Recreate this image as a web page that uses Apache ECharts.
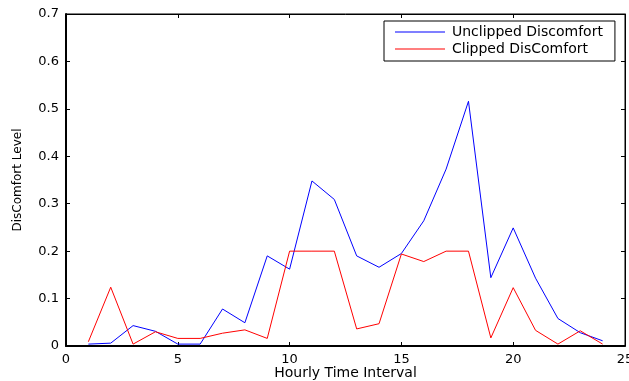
<!DOCTYPE html>
<html>
<head>
<meta charset="utf-8">
<script src="https://cdn.jsdelivr.net/npm/echarts@6/dist/echarts.min.js"></script>
<style>
  html, body { margin: 0; padding: 0; background: #fff; }
  #chart { width: 629px; height: 381px; }
</style>
</head>
<body>
<div id="chart"></div>
<script>
var hours = [1, 2, 3, 4, 5, 6, 7, 8, 9, 10, 11, 12, 13, 14, 15, 16, 17, 18, 19, 20, 21, 22, 23, 24];
var unclipped = [0.004, 0.006, 0.043, 0.031, 0.004, 0.004, 0.078, 0.049, 0.19, 0.162, 0.348, 0.309,
  0.19, 0.166, 0.195, 0.264, 0.373, 0.516, 0.144, 0.249, 0.143, 0.058, 0.028, 0.011];
var clipped = [0.009, 0.124, 0.004, 0.03, 0.016, 0.016, 0.027, 0.034, 0.016, 0.2, 0.2, 0.2,
  0.036, 0.047, 0.194, 0.178, 0.2, 0.2, 0.017, 0.123, 0.033, 0.004, 0.032, 0.004];

function pairs(ys) {
  var res = [];
  for (var i = 0; i < hours.length; i++) {
    res.push([hours[i], ys[i]]);
  }
  return res;
}

var font = 'DejaVu Sans';
var chart = echarts.init(document.getElementById('chart'));

var option = {
  backgroundColor: '#fff',
  animation: false,
  // grid border gives the matlab-style box
  grid: { left: 66, right: 4, top: 14, bottom: 35, outerBoundsMode: 'none',
    show: true, borderColor: '#000', borderWidth: 1 },
  legend: {
    orient: 'vertical',
    left: 384,
    top: 21,
    icon: 'rect',
    itemWidth: 50,
    itemHeight: 1,
    itemGap: 3,
    padding: [4, 12, 5, 11],
    borderColor: '#000',
    borderWidth: 1,
    backgroundColor: '#fff',
    textStyle: { fontFamily: font, fontSize: 14, color: '#000', padding: [0, 0, 0, 2] },
    data: ['Unclipped Discomfort', 'Clipped DisComfort']
  },
  xAxis: [{
    type: 'value',
    min: 0, max: 25, interval: 5,
    name: 'Hourly Time Interval',
    nameLocation: 'middle',
    nameGap: 20,
    nameMoveOverlap: false,
    nameTextStyle: { fontFamily: font, fontSize: 14, color: '#000' },
    axisLine: { lineStyle: { color: '#000', width: 2 } },
    axisTick: { inside: true, length: 4, lineStyle: { color: '#000' } },
    axisLabel: { fontFamily: font, fontSize: 13, color: '#000', margin: 7 },
    splitLine: { show: false }
  }, {
    type: 'value',
    position: 'top',
    min: 0, max: 25, interval: 5,
    axisLine: { show: true, onZero: false, lineStyle: { color: '#000', width: 1 } },
    axisTick: { show: true, inside: true, length: 4 },
    axisLabel: { show: false },
    splitLine: { show: false }
  }],
  yAxis: [{
    type: 'value',
    min: 0, max: 0.7, interval: 0.1,
    name: 'DisComfort Level',
    nameLocation: 'middle',
    nameGap: 42,
    nameMoveOverlap: false,
    nameTextStyle: { fontFamily: font, fontSize: 12, color: '#000' },
    axisLine: { show: true, lineStyle: { color: '#000', width: 2 } },
    axisTick: { show: true, inside: true, length: 4, lineStyle: { color: '#000' } },
    axisLabel: { fontFamily: font, fontSize: 13, color: '#000', margin: 7 },
    splitLine: { show: false }
  }, {
    type: 'value',
    position: 'right',
    min: 0, max: 0.7, interval: 0.1,
    axisLine: { show: true, onZero: false, lineStyle: { color: '#000', width: 1 } },
    axisTick: { show: true, inside: true, length: 4 },
    axisLabel: { show: false },
    splitLine: { show: false }
  }],
  series: [{
    name: 'Unclipped Discomfort',
    type: 'line',
    symbol: 'none',
    data: pairs(unclipped),
    lineStyle: { color: '#0000ff', width: 1 },
    itemStyle: { color: '#0000ff' }
  }, {
    name: 'Clipped DisComfort',
    type: 'line',
    xAxisIndex: 1,
    yAxisIndex: 1,
    symbol: 'none',
    data: pairs(clipped),
    lineStyle: { color: '#ff0000', width: 1 },
    itemStyle: { color: '#ff0000' }
  }]
};

chart.setOption(option);
</script>
</body>
</html>
